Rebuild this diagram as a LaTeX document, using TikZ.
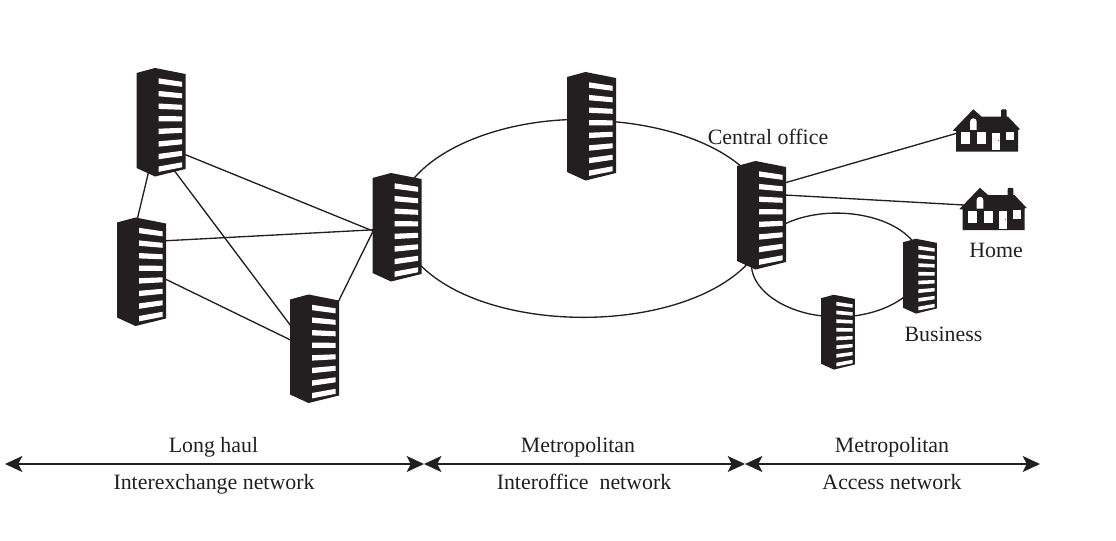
\documentclass[tikz,border=0pt]{standalone}
\usepackage{fontspec}
\setmainfont{Liberation Serif}
\usepackage{tikz}
\usetikzlibrary{arrows.meta,positioning,calc}
\definecolor{inkblack}{RGB}{35,31,32}
\newcommand{\tower}[2]{%
  \begin{scope}[shift={(#1.center)},scale=#2]
    \fill[inkblack] (-24.5,49) -- (-6,54) -- (24.5,48) -- (24.5,-47) -- (-6,-54.5) -- (-24.5,-46) -- cycle;
    \foreach \i in {0,...,7} {
      \pgfmathsetmacro{\yl}{41-12.6*\i}
      \pgfmathsetmacro{\yr}{37.7-11.5*\i}
      \fill[white] (-2.5,\yl+2.7) -- (21,\yr+2.5) -- (21,\yr-2.5) -- (-2.5,\yl-2.7) -- cycle;
    }
  \end{scope}}
\newcommand{\cottage}[1]{%
  \begin{scope}[shift={(#1.center)}]
    \fill[inkblack] (-33.3,-0.2) -- (-12.7,21.2) -- (-4.3,13.8) -- (15,13.8) -- (15,20) -- (16,21.2) -- (19.7,21.2) -- (20.7,20)
      -- (20.7,13.8) -- (22,13.8) -- (34,1.2) -- (32,0.5) -- (32,-21.2) -- (-30,-21.2) -- (-30,-0.5) -- cycle;
    \fill[white] (-16,0.5) -- (-16,8.9) arc (180:0:3.35) -- (-9.3,0.5) -- cycle;
    \fill[white] (-25,-1.8) rectangle (-16,-13.5);
    \fill[white] (-9,-1.8) rectangle (0,-13.5);
    \fill[white] (6,-2.2) rectangle (14,-19.5);
    \fill[white] (20,-1.2) rectangle (28,-9.5);
    \fill[inkblack] (12.7,-10.2) circle (0.5);
  \end{scope}}
\begin{document}
\begin{tikzpicture}[x=0.75pt,y=0.75pt,
    bigbox/.style={inner sep=0pt, minimum width=33pt, minimum height=69pt},
    smallbox/.style={inner sep=0pt, minimum width=22.8pt, minimum height=47.5pt},
    homebox/.style={inner sep=0pt, minimum width=42pt, minimum height=27pt},
    link/.style={inkblack, line width=1pt},
    span/.style={inkblack, line width=1pt, {Stealth[length=13pt,width=12pt,inset=3pt]}-{Stealth[length=13pt,width=12pt,inset=3pt]}},
    lbl/.style={anchor=base, font=\fontsize{16.4pt}{19pt}\selectfont, text=inkblack}]
  \useasboundingbox (0,0) rectangle (1116,540);
  \node[bigbox] (a) at (161,418) {};
  \node[bigbox] (b) at (141.5,268.5) {};
  \node[bigbox] (c) at (314.5,191.5) {};
  \node[bigbox] (d) at (397,313) {};
  \node[bigbox] (e) at (591.5,414) {};
  \node[bigbox] (f) at (761.5,325) {};
  \node[smallbox] (g) at (920,264) {};
  \node[smallbox] (h) at (838,208) {};
  \node[homebox] (home1) at (986,409.5) {};
  \node[homebox] (home2) at (992.6,331) {};
  % mesh
  \draw[link] (a.256) -- (b.97.9);
  \draw[link] (a.-55.4) -- (d.192.3);
  \draw[link] (a.-76.7) -- (c.137.4);
  \draw[link] (b.54.1) -- (d.187.5);
  \draw[link] (b.-17.6) -- (c.161);
  \draw[link] (c.63.2) -- (d.182.6);
  % big ring
  \draw[link] (d.72) to[out=52,in=182,out looseness=0.65,in looseness=1.05] (e.164.7);
  \draw[link] (e.11.8) to[out=-5,in=137.6,out looseness=1,in looseness=0.7] (f.111.9);
  \draw[link] (f.256) to[out=228,in=-46,looseness=0.77] (d.-59.3);
  % small ring
  \draw[link] (f.-23.6) to[out=26.4,in=125.3,out looseness=0.92,in looseness=0.74] (g.99);
  \draw[link] (g.233.2) to[out=219,in=6.8,out looseness=0.74,in looseness=0.94] (h.46.5);
  \draw[link] (h.134) to[out=174,in=263,out looseness=1.2,in looseness=0.74] (f.258.3);
  % homes
  \draw[link] (f.55.7) -- (home1.185.1);
  \draw[link] (f.42.4) -- (home2.172.1);
  \foreach \n/\s in {a/1,b/1,c/1,d/1,e/1,f/1,g/0.69,h/0.69} {\tower{\n}{\s}}
  \cottage{home1}
  \cottage{home2}
  \node[lbl] (central) at (768,395) {Central office};
  \node[lbl] (homelbl) at (996,283) {Home};
  \node[lbl] (bizlbl) at (943.5,199) {Business};
  % spans
  \coordinate (m0) at (5,76);
  \coordinate (m1) at (424,76);
  \coordinate (m2) at (745,76);
  \coordinate (m3) at (1040,76);
  \draw[span] (m0) -- (m1);
  \draw[span] (m1) -- (m2);
  \draw[span] (m2) -- (m3);
  \node[lbl] (longhaul) at (213.5,88) {Long haul};
  \node[lbl] (interex) at (214,51) {Interexchange network};
  \node[lbl] (metroa) at (578,88) {Metropolitan};
  \node[lbl] (interof) at (584,51) {Interoffice\ \ network};
  \node[lbl] (metrob) at (892,88) {Metropolitan};
  \node[lbl] (access) at (892,51) {Access network};
\end{tikzpicture}
\end{document}
